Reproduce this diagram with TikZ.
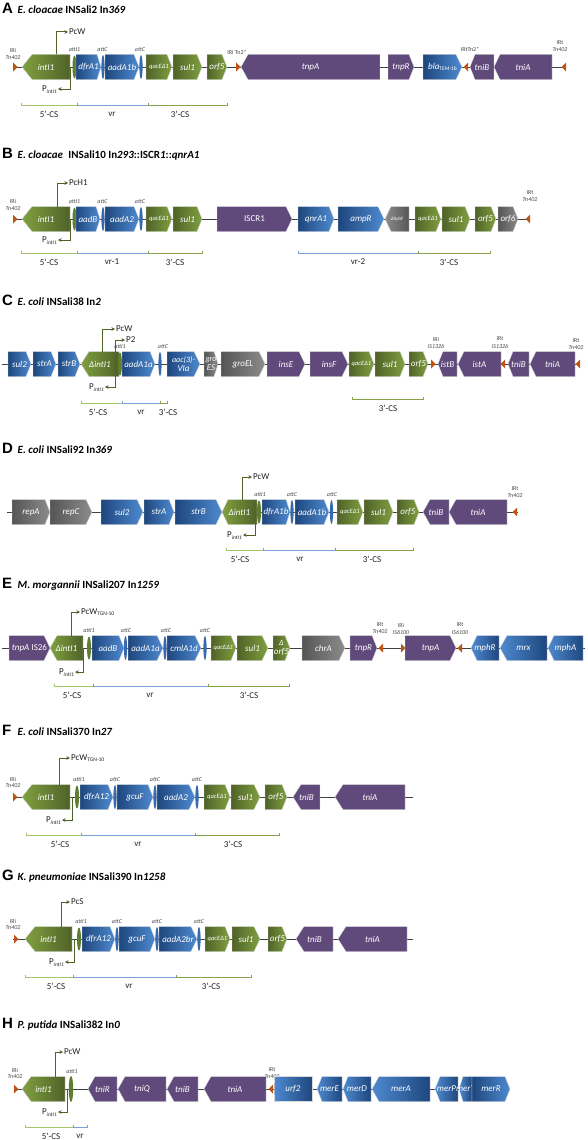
\documentclass[tikz,border=0pt]{standalone}
\usepackage{fontspec}
\setmainfont{Carlito}
\newfontfamily\arialf{Liberation Sans}
\usetikzlibrary{arrows.meta}
\definecolor{grD}{RGB}{79,98,40}
\definecolor{grL}{RGB}{128,160,64}
\definecolor{blD}{RGB}{30,70,125}
\definecolor{blL}{RGB}{78,138,208}
\definecolor{puD}{RGB}{96,74,123}
\definecolor{puL}{RGB}{96,74,123}
\definecolor{gyD}{RGB}{85,85,85}
\definecolor{gyL}{RGB}{140,140,140}
\definecolor{irc}{RGB}{190,85,20}
\definecolor{linec}{RGB}{64,64,64}
\definecolor{promc}{RGB}{79,98,40}
\definecolor{txtd}{RGB}{35,35,35}
\definecolor{txtg}{RGB}{70,70,70}
\definecolor{cfive}{RGB}{165,198,105}
\definecolor{cvr}{RGB}{120,160,215}
\definecolor{cthree}{RGB}{135,162,75}
\definecolor{attb}{RGB}{55,105,175}
\definecolor{attg}{RGB}{95,125,45}
\newcounter{gn}
\newcommand{\NN}[1][]{\stepcounter{gn}\node[#1] (n\arabic{gn})}
\newcommand{\sm}{\fontsize{6.5}{7}\selectfont}
\newcommand{\xs}{\fontsize{5}{5}\selectfont}
\newcommand{\twol}[2]{\fontsize{8}{8}\selectfont #1\\#2}
\newcommand{\pint}{P\raisebox{-0.4ex}{\fontsize{5.5}{5.5}\selectfont\itshape intI1}}
\newcommand{\pcwt}{PcW\raisebox{-0.4ex}{\fontsize{5.5}{5.5}\selectfont TGN-10}}
\newcommand{\blatem}{bla\raisebox{-0.4ex}{\fontsize{5.5}{5.5}\selectfont\upshape TEM-1b}}
% right-pointing gene: [tip]{x1}{x2}{y}{colour}{label}
\newcommand{\RG}[6][6]{\path[gbox,left color=#5D,right color=#5L] (#2,#4-12.5) -- (#3-#1,#4-12.5) -- (#3,#4) -- (#3-#1,#4+12.5) -- (#2,#4+12.5) -- cycle;
 \NN[glab] at ({(#2+#3)/2},#4) {#6};}
% left-pointing gene
\newcommand{\LG}[6][6]{\path[gbox,left color=#5L,right color=#5D] (#2,#4) -- (#2+#1,#4-12.5) -- (#3,#4-12.5) -- (#3,#4+12.5) -- (#2+#1,#4+12.5) -- cycle;
 \NN[glab] at ({(#2+#3)/2},#4) {#6};}
\newcommand{\IRR}[2]{\fill[irc] (#1-2,#2-4.5) -- (#1+2.5,#2) -- (#1-2,#2+4.5) -- cycle;}
\newcommand{\IRL}[2]{\fill[irc] (#1+2,#2-4.5) -- (#1-2.5,#2) -- (#1+2,#2+4.5) -- cycle;}
\newcommand{\IRlab}[4]{\NN[irl] at (#1,#2) {#3}; \NN[irl] at (#1,#2+7) {\itshape #4};}
\newcommand{\AI}[3]{\fill[attg] (#1,#2) ellipse (2 and 11.5); \NN[att] at (#3,#2-17) {attI1};}
\newcommand{\AC}[3]{\fill[attb] (#1,#2) ellipse (1.6 and 12); \NN[att] at (#3,#2-17) {attC};}
\newcommand{\PUP}[5]{\draw[prom] (#1,#2) |- (#4,#3); \NN[plab] at (#4+1,#3) {#5};}
\newcommand{\PDN}[5]{\draw[prom] (#1,#2) |- (#4,#3); \NN[plab,anchor=east] at (#4-1,#3+0.5) {#5};}
\newcommand{\brk}[6]{\draw[#4,line width=0.9pt] (#1,#3-2.5) -- (#1,#3) -- (#2,#3) -- (#2,#3-2.5); \NN[blab] at (#5,#3+9) {#6};}
\newcommand{\TT}[3]{\NN[ttl,font=\fontsize{15}{15}\selectfont\arialf\bfseries] at (2,#1) {#2}; \NN[ttl] at (17.5,#1) {#3};}
\tikzset{
 gbox/.style={draw=white!85!black, line width=0.35pt},
 glab/.style={font=\fontsize{9}{9}\selectfont\itshape, text=white, inner sep=0pt, align=center},
 att/.style={font=\fontsize{6}{6}\selectfont\itshape, text=txtg, inner sep=0pt},
 irl/.style={font=\fontsize{6}{6}\selectfont, text=txtg, inner sep=0pt},
 prom/.style={draw=promc, line width=1pt, -{Stealth[length=3.5pt,width=3.5pt]}},
 plab/.style={font=\fontsize{9}{9}\selectfont, text=txtd, inner sep=0pt, anchor=west},
 blab/.style={font=\fontsize{9}{9}\selectfont, text=txtd, inner sep=0pt},
 bb/.style={draw=linec, line width=0.9pt},
 ttl/.style={anchor=base west, inner sep=0pt, font=\fontsize{11}{12}\selectfont\bfseries, text=black}
}
\begin{document}
\begin{tikzpicture}[x=1pt,y=-1pt]
\useasboundingbox (0,0) rectangle (587,1140);
\fill[white] (0,0) rectangle (587,1140);

% ===== A =====
\TT{13.5}{A}{\textit{E. cloacae} INSali2 In\textit{369}}
\draw[bb] (13,67) -- (565,67);
\IRR{15}{67} \IRlab{13}{50.5}{IRi}{Tn402}
\LG[10]{22}{70}{67}{gr}{intI1}
\PUP{56}{54.5}{32}{68}{PcW}
\AI{74.5}{67}{74.5}
\PDN{70}{67}{89}{58}{\pint}
\RG[4]{76}{101}{67}{bl}{dfrA1}
\AC{103}{67}{102.5}
\RG[5]{105}{139}{67}{bl}{aadA1b}
\AC{141}{67}{140}
\RG[5]{146}{172}{67}{gr}{\sm qacEΔ1}
\RG[5]{173}{202}{67}{gr}{sul1}
\RG[5]{207}{227}{67}{gr}{orf5}
\IRR{238}{67} \NN[irl] at (237,52) {IRi Tn2*};
\LG[7]{241}{380}{67}{pu}{tnpA}
\RG[5]{388}{414}{67}{pu}{tnpR}
\RG[6]{423}{462}{67}{bl}{\blatem}
\IRL{466}{67} \NN[irl] at (470,49) {IRtTn2*};
\LG[5]{470}{494}{67}{pu}{tniB}
\LG[6]{494}{552}{67}{pu}{tniA}
\IRL{564}{67} \IRlab{560}{42.5}{IRt}{Tn402}
\brk{21}{77}{105}{cfive}{49}{5’-CS}
\brk{77}{148}{105}{cvr}{112}{vr}
\brk{148}{227}{105}{cthree}{180}{3’-CS}

% ===== B =====
\TT{158.5}{B}{\textit{E. cloacae}\enspace INSali10 In\textit{293}::ISCR\textit{1}::\textit{qnrA1}}
\draw[bb] (13,219) -- (530,219);
\IRR{15}{219} \IRlab{13}{201.5}{IRi}{Tn402}
\LG[10]{22}{70}{219}{gr}{intI1}
\PUP{57}{206.5}{183}{68}{PcH1}
\AI{74.5}{219}{74.5}
\PDN{70}{219}{240}{58}{\pint}
\RG[4]{76}{100}{219}{bl}{aadB}
\AC{103}{219}{102.5}
\RG[5]{105}{139}{219}{bl}{aadA2}
\AC{141}{219}{140}
\RG[5]{146}{172}{219}{gr}{\sm qacEΔ1}
\RG[5]{173}{202}{219}{gr}{sul1}
\RG[6]{217}{292}{219}{pu}{\upshape ISCR1}
\RG[5]{298}{334}{219}{bl}{qnrA1}
\RG[6]{338}{384}{219}{bl}{ampR}
\LG[6]{385}{409}{219}{gy}{\xs ΔhybF}
\RG[5]{415}{441}{219}{gr}{\sm qacEΔ1}
\RG[5]{442}{470}{219}{gr}{sul1}
\RG[5]{475}{496}{219}{gr}{orf5}
\RG[5]{498}{518}{219}{gy}{orf6}
\IRL{528}{219} \IRlab{530}{193}{IRt}{Tn402}
\brk{21}{77}{253}{cfive}{49}{5’-CS}
\brk{77}{148}{253}{cvr}{112}{vr-1}
\brk{148}{202}{253}{cthree}{175}{3’-CS}
\brk{298}{418}{253}{cvr}{358}{vr-2}
\brk{418}{490}{253}{cthree}{449}{3’-CS}

% ===== C =====
\TT{305}{C}{\textit{E. coli} INSali38 In\textit{2}}
\draw[bb] (2,364) -- (580,364);
\RG[5]{8}{31}{364}{bl}{sul2}
\RG[5]{33}{56}{364}{bl}{strA}
\RG[5]{58}{80}{364}{bl}{strB}
\LG[8]{81}{119}{364}{gr}{ΔintI1}
\PUP{102}{351.5}{329}{115}{PcW}
\AI{120}{364}{120}
\draw[prom] (115,364) |- (125,340); \NN[plab] at (126,340) {P2};
\PDN{115}{364}{387}{105}{\pint}
\RG[5]{122}{155}{364}{bl}{aadA1a}
\AC{160}{364}{163}
\RG[6]{167}{200}{364}{bl}{\twol{aac(3)-}{VIa}}
\RG[4]{204}{218}{364}{gy}{\twol{gro}{ES}}
\RG[6]{221}{265}{364}{gy}{groEL}
\RG[6]{267}{305}{364}{pu}{insE}
\RG[6]{310}{348}{364}{pu}{insF}
\RG[5]{349}{374}{364}{gr}{\sm qacEΔ1}
\RG[5]{375}{405}{364}{gr}{sul1}
\RG[5]{409}{428}{364}{gr}{orf5}
\IRR{433}{364} \IRlab{436}{339}{IRi}{IS1326}
\LG[5]{438}{457}{364}{pu}{istB}
\LG[6]{458}{501}{364}{pu}{istA}
\IRL{503}{364} \IRlab{500}{339}{IRt}{IS1326}
\LG[5]{508}{529}{364}{pu}{tniB}
\LG[6]{530}{575}{364}{pu}{tniA}
\IRL{578}{364} \IRlab{576}{341}{IRt}{Tn402}
\brk{81}{122}{403}{cfive}{98}{5’-CS}
\brk{122}{160}{403}{cvr}{141}{vr}
\brk{160}{167}{403}{cthree}{168}{3’-CS}
\brk{352}{423}{399}{cthree}{388}{3’-CS}

% ===== D =====
\TT{453.5}{D}{\textit{E. coli} INSali92 In\textit{369}}
\draw[bb] (7,512) -- (518,512);
\RG[5]{12}{50}{512}{gy}{repA}
\RG[6]{50}{92}{512}{gy}{repC}
\RG[6]{101}{143}{512}{bl}{sul2}
\RG[5]{144}{174}{512}{bl}{strA}
\RG[6]{175}{222}{512}{bl}{strB}
\LG[6]{222}{257}{512}{gr}{ΔintI1}
\PUP{242}{499.5}{477}{252}{PcW}
\AI{259}{512}{260}
\PDN{255}{512}{535}{243}{\pint}
\RG[4]{262}{290}{512}{bl}{dfrA1b}
\AC{292}{512}{292}
\RG[5]{295}{329}{512}{bl}{aadA1b}
\AC{331.5}{512}{332}
\RG[5]{337}{363}{512}{gr}{\sm qacEΔ1}
\RG[5]{364}{393}{512}{gr}{sul1}
\RG[5]{397}{419}{512}{gr}{orf5}
\LG[7]{423}{449}{512}{pu}{tniB}
\LG[7]{449}{507}{512}{pu}{tniA}
\IRL{515}{512} \IRlab{515}{488.5}{IRt}{Tn402}
\brk{226}{263}{550}{cfive}{240}{5’-CS}
\brk{263}{335}{550}{cvr}{300}{vr}
\brk{335}{413}{550}{cthree}{372}{3’-CS}

% ===== E =====
\TT{588.5}{E}{\textit{M. morgannii} INSali207 In\textit{1259}}
\draw[bb] (2,648) -- (585,648);
\RG[6]{9}{50}{648}{pu}{tnpA \upshape IS26}
\LG[7]{50}{83}{648}{gr}{ΔintI1}
\PUP{71}{635.5}{612}{80}{\pcwt}
\AI{89}{648}{89}
\PDN{83}{648}{672}{75}{\pint}
\RG[5]{92}{124}{648}{bl}{aadB}
\AC{125.5}{648}{126}
\RG[6]{128}{163}{648}{bl}{aadA1a}
\AC{165}{648}{166}
\RG[6]{167}{201}{648}{bl}{cmlA1d}
\AC{205}{648}{205}
\RG[5]{211}{236}{648}{gr}{\sm qacEΔ1}
\RG[6]{237}{268}{648}{gr}{sul1}
\RG[5]{273}{290}{648}{gr}{\twol{Δ}{orf5}}
\RG[6]{302}{345}{648}{gy}{chrA}
\RG[5]{350}{377}{648}{pu}{tnpR}
\IRL{381}{648} \IRlab{380}{625}{IRt}{Tn402}
\IRR{403}{648} \IRlab{401}{625}{IRi}{IS6100}
\RG[6]{405}{456}{648}{pu}{tnpA}
\IRL{460}{648} \IRlab{460}{625}{IRt}{IS6100}
\LG[6]{471}{499}{648}{bl}{mphR}
\LG[7]{500}{547}{648}{bl}{mrx}
\LG[6]{548}{583}{648}{bl}{mphA}
\brk{54}{93}{686}{cfive}{72}{5’-CS}
\brk{93}{208}{686}{cvr}{150}{vr}
\brk{208}{289}{686}{cthree}{249}{3’-CS}

% ===== F =====
\TT{735}{F}{\textit{E. coli} INSali370 In\textit{27}}
\draw[bb] (13,797) -- (413,797);
\IRR{15}{797} \IRlab{13}{779}{IRi}{Tn402}
\LG[10]{22}{70}{797}{gr}{intI1}
\PUP{59}{784.5}{758}{70}{\pcwt}
\AI{77}{797}{79}
\PDN{72}{797}{820}{62}{\pint}
\RG[5]{80}{113}{797}{bl}{dfrA12}
\AC{115}{797}{115}
\RG[5]{117}{153}{797}{bl}{gcuF}
\AC{155}{797}{155}
\RG[6]{157}{195}{797}{bl}{aadA2}
\AC{197}{797}{197}
\RG[5]{204}{230}{797}{gr}{\sm qacEΔ1}
\RG[6]{231}{260}{797}{gr}{sul1}
\RG[5]{265}{287}{797}{gr}{orf5}
\LG[8]{293}{320}{797}{pu}{tniB}
\LG[8]{335}{405}{797}{pu}{tniA}
\brk{26}{81}{835}{cfive}{60}{5’-CS}
\brk{81}{195}{835}{cvr}{138}{vr}
\brk{195}{279}{835}{cthree}{233}{3’-CS}

% ===== G =====
\TT{880.5}{G}{\textit{K. pneumoniae} INSali390 In\textit{1258}}
\draw[bb] (13,939) -- (413,939);
\IRR{16}{939} \IRlab{13}{921}{IRi}{Tn402}
\LG[10]{25}{72}{939}{gr}{intI1}
\PUP{61}{926.5}{902}{70}{PcS}
\AI{79}{939}{81}
\PDN{74}{939}{962}{65}{\pint}
\RG[5]{82}{115}{939}{bl}{dfrA12}
\AC{117}{939}{117}
\RG[5]{119}{155}{939}{bl}{gcuF}
\AC{157}{939}{157}
\RG[6]{159}{197}{939}{bl}{aadA2br}
\AC{199}{939}{199}
\RG[5]{205}{230}{939}{gr}{\sm qacEΔ1}
\RG[6]{232}{260}{939}{gr}{sul1}
\RG[5]{268}{287}{939}{gr}{orf5}
\LG[8]{296}{333}{939}{pu}{tniB}
\LG[8]{338}{407}{939}{pu}{tniA}
\brk{25}{73}{977}{cfive}{56}{5’-CS}
\brk{73}{176}{977}{cvr}{129}{vr}
\brk{176}{251}{977}{cthree}{211}{3’-CS}

% ===== H =====
\TT{1028}{H}{\textit{P. putida} INSali382 In\textit{0}}
\draw[bb] (14,1089) -- (510,1089);
\IRR{16}{1089} \IRlab{15}{1070}{IRi}{Tn402}
\LG[9]{22}{65}{1089}{gr}{intI1}
\PUP{55}{1076.5}{1052}{63}{PcW}
\fill[attg] (71,1089) ellipse (2.2 and 13); \NN[att] at (72,1072) {attI1};
\PDN{67}{1089}{1112}{58}{\pint}
\LG[7]{88}{117}{1089}{pu}{tniR}
\LG[7]{118}{166}{1089}{pu}{tniQ}
\LG[7]{167}{198}{1089}{pu}{tniB}
\LG[7]{204}{266}{1089}{pu}{tniA}
\IRL{271}{1089} \IRlab{272}{1070}{IRt}{Tn402}
\LG[0]{274}{312}{1089}{bl}{urf2}
\LG[5]{317}{342}{1089}{bl}{merE}
\LG[5]{343}{371}{1089}{bl}{merD}
\LG[7]{372}{430}{1089}{bl}{merA}
\LG[5]{435}{458}{1089}{bl}{merP}
\LG[4]{459}{472}{1089}{bl}{merT}
\RG[5]{472}{510}{1089}{bl}{merR}
\brk{25}{73}{1127}{cfive}{51}{5’-CS}
\brk{73}{87}{1127}{cvr}{80}{vr}
\end{tikzpicture}
\end{document}
